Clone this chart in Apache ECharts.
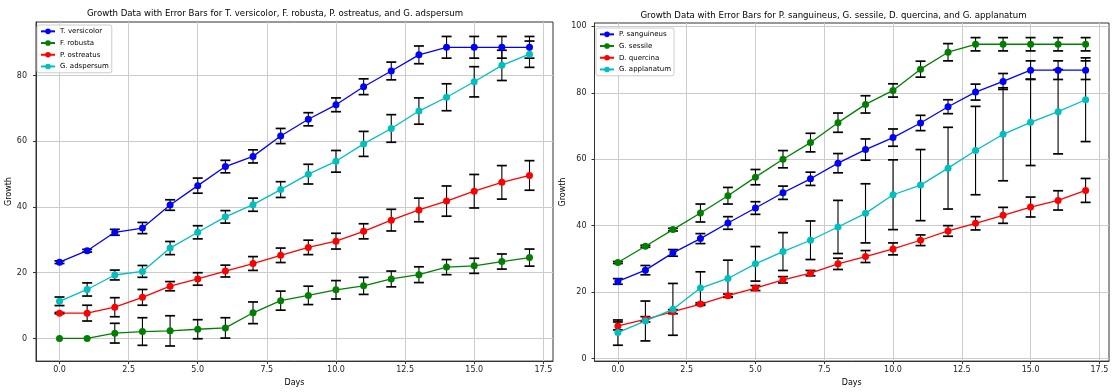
<!DOCTYPE html>
<html><head><meta charset="utf-8">
<script src="https://cdn.jsdelivr.net/npm/echarts@6/dist/echarts.min.js"></script>
<style>html,body{margin:0;padding:0;background:#fff}#c{width:1112px;height:392px}</style>
</head><body><div id="c"></div>
<script>
const days = [0,1,2,3,4,5,6,7,8,9,10,11,12,13,14,15,16,17];
const xTicks = [0, 2.5, 5, 7.5, 10, 12.5, 15, 17.5];
const leftYTicks = [0, 20, 40, 60, 80];
const rightYTicks = [0, 20, 40, 60, 80, 100];

const leftNames = ['T. versicolor', 'F. robusta', 'P. ostreatus', 'G. adspersum'];
const rightNames = ['P. sanguineus', 'G. sessile', 'D. quercina', 'G. applanatum'];

const tVersicolor = [23.2, 26.7, 32.3, 33.6, 40.6, 46.5, 52.3, 55.4, 61.6, 66.7, 71.1, 76.6, 81.4, 86.3, 88.6, 88.6, 88.6, 88.6];
const tVersicolorErr = [0.4, 0.4, 0.9, 1.7, 1.6, 2.3, 1.9, 2.0, 2.3, 2.0, 2.1, 2.4, 2.7, 2.7, 3.3, 3.3, 3.3, 3.3];
const fRobusta = [0, 0, 1.6, 2.1, 2.3, 2.8, 3.2, 7.8, 11.5, 13.1, 14.8, 16.0, 18.1, 19.4, 21.7, 22.1, 23.4, 24.6];
const fRobustaErr = [0, 0, 3.0, 4.2, 4.6, 2.9, 3.1, 3.3, 2.9, 2.8, 2.8, 2.6, 2.4, 2.4, 2.3, 2.3, 2.3, 2.6];
const pOstreatus = [7.7, 7.7, 9.5, 12.5, 15.9, 18.1, 20.5, 22.8, 25.3, 27.7, 29.6, 32.6, 36.0, 39.1, 41.8, 44.8, 47.5, 49.6];
const pOstreatusErr = [0.2, 2.4, 2.9, 2.4, 1.4, 1.9, 1.8, 2.1, 2.2, 2.2, 2.4, 2.3, 3.3, 3.6, 4.6, 5.1, 5.1, 4.5];
const gAdspersum = [11.3, 14.9, 19.3, 20.4, 27.5, 32.3, 37.0, 40.7, 45.3, 50.0, 53.9, 59.2, 63.9, 69.2, 73.4, 78.1, 83.1, 86.5];
const gAdspersumErr = [1.3, 2.0, 1.5, 1.8, 2.0, 2.0, 1.9, 2.0, 2.4, 3.0, 3.3, 3.8, 4.2, 4.0, 4.1, 4.6, 4.6, 4.0];

const pSanguineus = [23.2, 26.6, 31.8, 36.1, 40.8, 45.3, 49.9, 54.1, 58.8, 62.9, 66.5, 70.9, 75.8, 80.2, 83.4, 86.8, 86.8, 86.8];
const pSanguineusErr = [0.85, 1.4, 1.0, 1.5, 1.9, 1.9, 2.0, 2.0, 2.9, 3.2, 2.6, 2.3, 2.1, 2.4, 2.4, 2.8, 2.8, 2.8];
const gSessile = [28.9, 33.8, 38.8, 43.8, 49.0, 54.6, 60.0, 65.0, 71.0, 76.5, 80.7, 87.1, 92.2, 94.6, 94.6, 94.6, 94.6, 94.6];
const gSessileErr = [0.3, 0.3, 0.4, 2.7, 2.5, 2.3, 2.6, 2.8, 2.9, 2.6, 2.0, 2.4, 2.6, 2.0, 2.0, 2.0, 2.0, 2.0];
const dQuercina = [9.8, 11.8, 14.1, 16.4, 18.9, 21.2, 23.7, 25.7, 28.5, 30.7, 33.0, 35.6, 38.4, 40.7, 43.1, 45.6, 47.6, 50.6];
const dQuercinaErr = [1.2, 0.8, 0.6, 0.4, 0.5, 0.75, 0.95, 0.8, 1.7, 1.8, 1.8, 1.6, 1.6, 2.0, 2.4, 3.0, 2.9, 3.6];
const gApplanatum = [7.8, 11.3, 14.8, 21.2, 24.1, 28.5, 32.2, 35.6, 39.6, 43.7, 49.3, 52.2, 57.3, 62.6, 67.5, 71.1, 74.3, 77.9];
const gApplanatumErr = [3.8, 6.0, 7.8, 4.9, 5.5, 5.2, 5.7, 5.8, 8.0, 8.9, 10.5, 10.7, 12.3, 13.3, 14.0, 13.0, 12.7, 12.6];

const colors = ['#0000ff', '#008000', '#ff0000', '#00bfbf'];
const FONT = 'DejaVu Sans';

function lineSeries(name, vals, color, gi) {
  return {
    type: 'line', name: name, xAxisIndex: gi, yAxisIndex: gi, z: 3,
    data: days.map((d, i) => [d, vals[i]]),
    symbol: 'circle', symbolSize: 7, showSymbol: true,
    lineStyle: { color: color, width: 1.3 },
    itemStyle: { color: color },
    emphasis: { disabled: true }, animation: false
  };
}
function errSeries(name, vals, errs, gi) {
  return {
    type: 'custom', name: name + ' error', xAxisIndex: gi, yAxisIndex: gi, z: 2, silent: true,
    data: days.map((d, i) => [d, vals[i], errs[i]]),
    encode: { x: 0, y: 1 },
    renderItem: function (params, api) {
      const x = api.value(0), y = api.value(1), e = api.value(2);
      if (!(e > 0)) return null;
      const t = api.coord([x, y + e]), b = api.coord([x, y - e]);
      const cap = 5;
      return { type: 'group', children: [
        { type: 'line', shape: { x1: t[0], y1: t[1], x2: b[0], y2: b[1] }, style: { stroke: '#000', lineWidth: 1.1 } },
        { type: 'line', shape: { x1: t[0] - cap, y1: t[1], x2: t[0] + cap, y2: t[1] }, style: { stroke: '#000', lineWidth: 1.7 } },
        { type: 'line', shape: { x1: b[0] - cap, y1: b[1], x2: b[0] + cap, y2: b[1] }, style: { stroke: '#000', lineWidth: 1.7 } }
      ] };
    },
    animation: false
  };
}
function xAxis(gi) {
  return {
    type: 'value', gridIndex: gi, min: -0.85, max: 17.85,
    axisLine: { show: true, onZero: false, lineStyle: { color: '#333', width: 1 } },
    axisTick: { show: true, customValues: xTicks, length: 3, lineStyle: { color: '#333' } },
    axisLabel: { customValues: xTicks, formatter: v => Number(v).toFixed(1), fontSize: 8, color: '#222', margin: 5, fontFamily: FONT },
    splitLine: { show: true, lineStyle: { color: '#cccccc', width: 1 } },
    name: 'Days', nameLocation: 'middle', nameGap: 17,
    nameTextStyle: { fontSize: 8, color: '#000', fontFamily: FONT }
  };
}
function yAxis(gi, min, max, ticks, margin) {
  return {
    type: 'value', gridIndex: gi, min: min, max: max,
    axisLine: { show: true, onZero: false, lineStyle: { color: '#333', width: 1 } },
    axisTick: { show: true, customValues: ticks, length: 3, lineStyle: { color: '#333' } },
    axisLabel: { customValues: ticks, fontSize: 8, color: '#222', margin: margin, fontFamily: FONT },
    splitLine: { show: true, lineStyle: { color: '#cccccc', width: 1 } },
    name: 'Growth', nameLocation: 'middle', nameGap: 21, nameRotate: 90,
    nameTextStyle: { fontSize: 8, color: '#000', fontFamily: FONT }
  };
}
function legend(names, left, top) {
  return {
    data: names, left: left, top: top, orient: 'vertical',
    itemWidth: 14, itemHeight: 7, itemGap: 3, padding: [2, 3, 2, 3],
    borderColor: '#cccccc', borderWidth: 1, borderRadius: 2,
    backgroundColor: 'rgba(255,255,255,0.8)', selectedMode: false,
    textStyle: { fontSize: 7, color: '#000', fontFamily: FONT, lineHeight: 8.7 }
  };
}

const leftVals = [tVersicolor, fRobusta, pOstreatus, gAdspersum];
const leftErrs = [tVersicolorErr, fRobustaErr, pOstreatusErr, gAdspersumErr];
const rightVals = [pSanguineus, gSessile, dQuercina, gApplanatum];
const rightErrs = [pSanguineusErr, gSessileErr, dQuercinaErr, gApplanatumErr];

const series = [];
[[leftNames, leftVals, leftErrs, 0], [rightNames, rightVals, rightErrs, 1]].forEach(([names, vals, errs, gi]) => {
  names.forEach((n, k) => {
    series.push(errSeries(n, vals[k], errs[k], gi));
    series.push(lineSeries(n, vals[k], colors[k], gi));
  });
});

const chart = echarts.init(document.getElementById('c'), null, { renderer: 'canvas' });
chart.setOption({
  animation: false,
  backgroundColor: '#fff',
  grid: [
    { left: 36, top: 22, width: 517, height: 342, show: true, borderColor: '#333', borderWidth: 1, backgroundColor: 'transparent' },
    { left: 594.5, top: 23, width: 514.5, height: 341, show: true, borderColor: '#333', borderWidth: 1, backgroundColor: 'transparent' }
  ],
  xAxis: [xAxis(0), xAxis(1)],
  yAxis: [yAxis(0, -6.9, 96.3, leftYTicks, 9), yAxis(1, -0.78, 101, rightYTicks, 8)],
  legend: [legend(leftNames, 37, 25), legend(rightNames, 596, 28)],
  graphic: [
    { type: 'text', x: 275, y: 14, style: { text: 'Growth Data with Error Bars for T. versicolor, F. robusta, P. ostreatus, and G. adspersum', fontSize: 8.6, fontFamily: FONT, fill: '#000', align: 'center', verticalAlign: 'middle' } },
    { type: 'text', x: 833.5, y: 15.7, style: { text: 'Growth Data with Error Bars for P. sanguineus, G. sessile, D. quercina, and G. applanatum', fontSize: 8.6, fontFamily: FONT, fill: '#000', align: 'center', verticalAlign: 'middle' } }
  ],
  series: series
});
</script></body></html>
